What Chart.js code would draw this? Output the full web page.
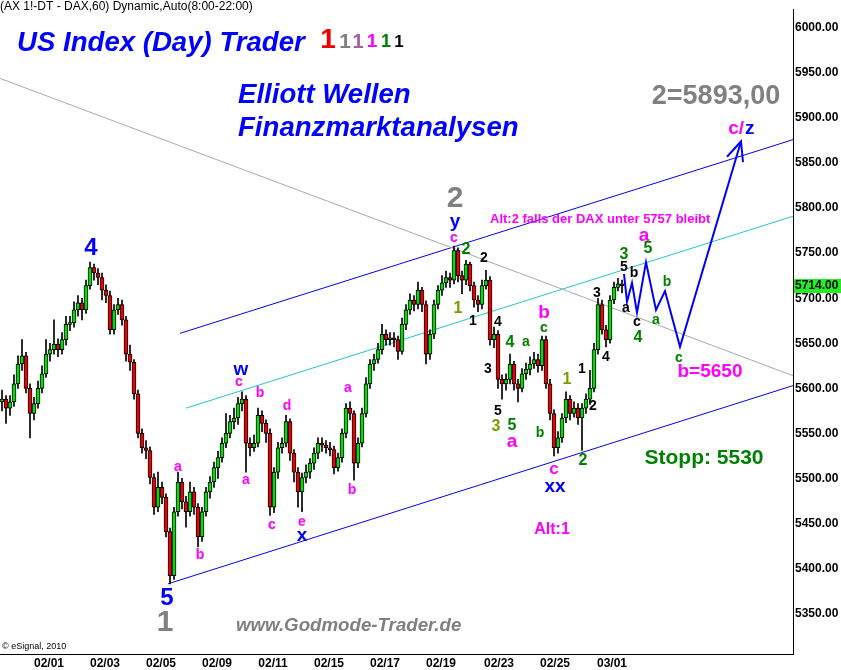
<!DOCTYPE html>
<html>
<head>
<meta charset="utf-8">
<script src="https://cdn.jsdelivr.net/npm/chart.js@4.4.1/dist/chart.umd.min.js"></script>
<style>
  html, body { margin: 0; padding: 0; background: #fff; }
  #wrap { width: 841px; height: 670px; }
</style>
</head>
<body>
<div id="wrap"><canvas id="chart" width="841" height="670"></canvas></div>
<script>
// ---- DATA (FDAX 60 min, ~2 hours per candle) ----
const closes = [
  5588, 5578, 5585, 5605, 5627, 5636, 5600, 5572, 5583, 5600,
  5616, 5638, 5643, 5649, 5643, 5654, 5671, 5673, 5687, 5695,
  5687, 5714, 5734, 5728, 5723, 5709, 5703, 5665, 5687, 5693,
  5676, 5638, 5629, 5594, 5550, 5534, 5531, 5501, 5468, 5490,
  5479, 5441, 5392, 5463, 5496, 5474, 5463, 5485, 5468, 5435,
  5463, 5485, 5496, 5512, 5523, 5539, 5550, 5563, 5567, 5583,
  5588, 5539, 5534, 5539, 5570, 5561, 5550, 5468, 5507, 5534,
  5539, 5563, 5528, 5507, 5485, 5501, 5507, 5517, 5528, 5539,
  5537, 5534, 5532, 5512, 5523, 5550, 5578, 5572, 5517, 5539,
  5572, 5605, 5627, 5632, 5643, 5660, 5654, 5656, 5654, 5641,
  5671, 5687, 5698, 5693, 5709, 5693, 5638, 5660, 5693, 5709,
  5717, 5723, 5720, 5753, 5725, 5720, 5738, 5714, 5698, 5693,
  5714, 5720, 5654, 5660, 5610, 5605, 5610, 5627, 5605, 5600,
  5616, 5621, 5627, 5632, 5625, 5654, 5605, 5572, 5534, 5545,
  5567, 5588, 5572, 5578, 5567, 5578, 5588, 5600, 5643, 5693,
  5665, 5654, 5698, 5712, 5716, 5714
];
const highs = [
  5598, 5592, 5592, 5615, 5636, 5654, 5640, 5605, 5590, 5608,
  5625, 5654, 5650, 5676, 5655, 5662, 5680, 5680, 5696, 5703,
  5700, 5720, 5740, 5738, 5733, 5728, 5715, 5708, 5693, 5700,
  5698, 5680, 5648, 5632, 5598, 5555, 5542, 5535, 5505, 5507,
  5496, 5483, 5445, 5468, 5507, 5500, 5480, 5496, 5490, 5472,
  5468, 5490, 5502, 5518, 5530, 5545, 5572, 5570, 5578, 5590,
  5596, 5592, 5545, 5548, 5578, 5575, 5565, 5555, 5512, 5540,
  5545, 5570, 5566, 5532, 5512, 5506, 5515, 5522, 5534, 5545,
  5545, 5542, 5540, 5536, 5528, 5555, 5583, 5585, 5575, 5545,
  5578, 5612, 5632, 5638, 5650, 5671, 5665, 5662, 5662, 5658,
  5678, 5693, 5705, 5703, 5718, 5712, 5697, 5665, 5698, 5714,
  5725, 5730, 5728, 5758, 5756, 5730, 5742, 5740, 5718, 5703,
  5720, 5731, 5724, 5668, 5664, 5615, 5616, 5638, 5630, 5610,
  5622, 5628, 5635, 5640, 5638, 5658, 5658, 5610, 5576, 5552,
  5572, 5596, 5592, 5585, 5583, 5583, 5594, 5620, 5650, 5700,
  5698, 5670, 5703, 5718, 5722, 5720
];
const lows = [
  5575, 5561, 5570, 5580, 5600, 5620, 5595, 5545, 5565, 5578,
  5595, 5612, 5630, 5638, 5635, 5638, 5648, 5664, 5668, 5680,
  5676, 5683, 5710, 5720, 5715, 5698, 5695, 5660, 5660, 5682,
  5670, 5630, 5620, 5588, 5545, 5528, 5522, 5494, 5460, 5463,
  5472, 5435, 5383, 5388, 5458, 5466, 5446, 5458, 5460, 5424,
  5430, 5458, 5478, 5490, 5500, 5518, 5534, 5545, 5555, 5560,
  5575, 5507, 5525, 5530, 5535, 5552, 5540, 5459, 5462, 5500,
  5528, 5535, 5520, 5496, 5468, 5463, 5495, 5500, 5510, 5522,
  5530, 5528, 5525, 5505, 5508, 5518, 5545, 5565, 5498, 5512,
  5535, 5568, 5600, 5620, 5628, 5638, 5648, 5648, 5646, 5632,
  5638, 5665, 5682, 5686, 5688, 5685, 5627, 5632, 5655, 5688,
  5703, 5712, 5712, 5716, 5718, 5705, 5715, 5708, 5690, 5685,
  5688, 5710, 5648, 5645, 5600, 5588, 5598, 5605, 5598, 5585,
  5596, 5610, 5615, 5622, 5618, 5620, 5600, 5565, 5525, 5528,
  5540, 5562, 5565, 5568, 5560, 5531, 5572, 5582, 5596, 5638,
  5660, 5646, 5650, 5694, 5708, 5706
];
const firstOpen = 5585;
const opens = closes.map((c, i) => i === 0 ? firstOpen : closes[i - 1]);

// date ticks (bar index where the day label sits)
const dateLabels   = ['02/01', '02/03', '02/05', '02/09', '02/11', '02/15', '02/17', '02/19', '02/23', '02/25', '03/01'];
const dateTickBars = [11.75, 25.75, 39.75, 53.75, 67.75, 81.75, 95.75, 109.75, 124.25, 138.25, 152.5];
const priceTicks   = [5350, 5400, 5450, 5500, 5550, 5600, 5650, 5700, 5750, 5800, 5850, 5900, 5950, 6000];

// trend channel lines [bar, price] pairs
const grayLine   = [[-0.5, 5944], [197.75, 5614]];
const upperLine  = [[44.5, 5661], [197.75, 5876]];
const middleLine = [[46, 5578], [197.75, 5791]];
const lowerLine  = [[41.5, 5383], [197.75, 5603]];

// projected path (wave b then c/z)
const projBars   = [155.5, 156.25, 157.5, 158.75, 161, 163.5, 165.75, 169.5, 184.75];
const projPrices = [5727, 5696, 5717, 5684, 5740, 5687, 5708, 5646, 5874];
const arrowTip   = [184.75, 5874];
const arrowLeft  = [181.25, 5857];
const arrowRight = [185.25, 5851];

// ---- STYLE ----
const FONT = '"Liberation Sans", Arial, sans-serif';
const MAG = '#ff00ff', BLUE = '#0000ff', GRAY = '#808080', GRN = '#008000', OLV = '#7a9a00', BLK = '#000000';
const UP = '#00e000', DOWN = '#ee0000';

// wave labels: text, bar, price, color, size
const waveLabels = [
  ['4', 22.25, 5755, BLUE, 24], ['5', 41.25, 5367, BLUE, 24], ['1', 40.75, 5340, GRAY, 30],
  ['a', 44, 5512, MAG, 14], ['b', 49.5, 5415, MAG, 14],
  ['w', 59.75, 5621, BLUE, 19], ['c', 59.25, 5607, MAG, 14], ['a', 61, 5498, MAG, 14],
  ['b', 64.5, 5595, MAG, 14], ['c', 67.5, 5448, MAG, 14], ['d', 71.25, 5580, MAG, 14],
  ['e', 75, 5452, MAG, 14], ['x', 75, 5436, BLUE, 19],
  ['a', 86.5, 5600, MAG, 14], ['b', 87.5, 5487, MAG, 14],
  ['2', 113.25, 5810, GRAY, 30], ['y', 113.25, 5785, BLUE, 19], ['c', 113, 5767, MAG, 14],
  ['2', 116, 5754, GRN, 16], ['2', 120.5, 5744, BLK, 14], ['1', 114, 5688, OLV, 16],
  ['1', 117.75, 5675, BLK, 14], ['4', 124, 5674, BLK, 14], ['4', 127, 5651, GRN, 16],
  ['a', 131, 5651, GRN, 14], ['3', 121.5, 5621, BLK, 14], ['5', 124, 5575, BLK, 14],
  ['3', 123.5, 5558, OLV, 16], ['5', 127.5, 5559, GRN, 16], ['a', 127.5, 5541, MAG, 19],
  ['b', 135.5, 5684, MAG, 19], ['c', 135.5, 5667, GRN, 14], ['b', 134.5, 5550, GRN, 14],
  ['c', 138, 5510, MAG, 17], ['xx', 138.25, 5491, BLUE, 19],
  ['1', 141.25, 5610, OLV, 16], ['1', 145, 5621, BLK, 14], ['2', 147.75, 5580, BLK, 14],
  ['2', 145.25, 5520, GRN, 16], ['3', 148.75, 5706, BLK, 14], ['4', 151, 5635, BLK, 14],
  ['3', 155.5, 5748, GRN, 16], ['5', 155.5, 5734, BLK, 14], ['a', 156, 5689, BLK, 14],
  ['b', 158, 5728, BLK, 14], ['c', 158.75, 5674, BLK, 14], ['4', 159, 5656, GRN, 16],
  ['a', 160.5, 5769, MAG, 19], ['5', 161.5, 5755, GRN, 16], ['a', 163.5, 5676, GRN, 14],
  ['b', 166.25, 5718, GRN, 14], ['c', 169.25, 5633, GRN, 14],
  ['b=5650', 177, 5618, MAG, 19], ['2=5893,00', 178.5, 5924, GRAY, 27],
  ['Stopp: 5530', 175.5, 5522, GRN, 21], ['Alt:1', 137.5, 5443, MAG, 16]
];

function txt(ctx, s, x, y, color, size, align, style) {
  ctx.font = (style || 'bold') + ' ' + size + 'px ' + FONT;
  ctx.fillStyle = color;
  ctx.textAlign = align || 'center';
  ctx.textBaseline = 'middle';
  ctx.fillText(s, x, y);
}

const annotationsPlugin = {
  id: 'ewAnnotations',
  afterDatasetsDraw(chart) {
    const { ctx, scales: { x, y } } = chart;
    ctx.save();
    waveLabels.forEach(([s, b, p, c, sz]) => txt(ctx, s, x.getPixelForValue(b), y.getPixelForValue(p), c, sz));
    // c/z target
    const cx = x.getPixelForValue(184.5), cy = y.getPixelForValue(5888);
    txt(ctx, 'c/', cx + 4, cy, MAG, 19, 'right');
    txt(ctx, 'z', cx + 5, cy, BLUE, 19, 'left');
    // alternative note
    txt(ctx, 'Alt:2 falls der DAX unter 5757 bleibt', x.getPixelForValue(122), y.getPixelForValue(5788), MAG, 13, 'left');

    // frame texts
    txt(ctx, '(AX 1!-DT - DAX,60) Dynamic,Auto(8:00-22:00)', 0, 7, BLK, 12, 'left', 'normal');
    txt(ctx, 'US Index (Day) Trader', 17, 43, BLUE, 27.6, 'left', 'italic bold');
    txt(ctx, '1', 328, 40, '#ee0000', 28);
    txt(ctx, '1', 345, 42, GRAY, 21);
    txt(ctx, '1', 358, 42, '#a060a0', 20);
    txt(ctx, '1', 372, 42, MAG, 19);
    txt(ctx, '1', 386, 42, GRN, 18);
    txt(ctx, '1', 399, 42, BLK, 17);
    txt(ctx, 'Elliott Wellen', 238, 95, BLUE, 27.6, 'left', 'italic bold');
    txt(ctx, 'Finanzmarktanalysen', 238, 128, BLUE, 27.6, 'left', 'italic bold');
    txt(ctx, 'www.Godmode-Trader.de', 236, 626, GRAY, 18.7, 'left', 'italic bold');
    txt(ctx, '\u00a9 eSignal, 2010', 2, 647, BLK, 9, 'left', 'normal');
    ctx.restore();
  },
  afterDraw(chart) {
    const { ctx, chartArea, scales: { y } } = chart;
    const last = closes[closes.length - 1];
    const py = Math.round(y.getPixelForValue(last));
    ctx.save();
    ctx.fillStyle = '#22ee22';
    ctx.fillRect(chartArea.right + 1, py - 7, 48, 14);
    txt(ctx, last.toFixed(2), chartArea.right + 2, py, BLK, 12, 'left');
    ctx.restore();
  }
};

const pts = arr => arr.map(([b, p]) => ({ x: b, y: p }));
const lineDs = (data, color, width, order) => ({
  type: 'line', data, borderColor: color, borderWidth: width,
  pointRadius: 0, fill: false, tension: 0, order
});

new Chart(document.getElementById('chart'), {
  type: 'bar',
  data: {
    datasets: [
      lineDs(pts(grayLine), '#a8a8a8', 1, 5),
      lineDs(pts(upperLine), BLUE, 1, 5),
      lineDs(pts(middleLine), '#22c4cc', 1, 5),
      lineDs(pts(lowerLine), BLUE, 1, 5),
      {
        type: 'bar',
        data: closes.map((c, i) => ({ x: i, y: [lows[i], highs[i]] })),
        backgroundColor: '#000', barThickness: 1, grouped: false, order: 3
      },
      {
        type: 'bar',
        data: closes.map((c, i) => ({ x: i, y: [opens[i], c] })),
        backgroundColor: closes.map((c, i) => c >= opens[i] ? UP : DOWN),
        borderColor: '#000', borderWidth: 1, borderSkipped: false,
        barThickness: 4, grouped: false, order: 2
      },
      lineDs(projBars.map((b, i) => ({ x: b, y: projPrices[i] })), BLUE, 2, 1),
      lineDs(pts([arrowLeft, arrowTip, arrowRight]), BLUE, 2, 1)
    ]
  },
  options: {
    responsive: false,
    animation: false,
    devicePixelRatio: 1,
    layout: { padding: 0 },
    plugins: { legend: { display: false }, tooltip: { enabled: false } },
    scales: {
      x: {
        type: 'linear', position: 'bottom', min: -0.5, max: 197.75, offset: false,
        grid: { display: false, drawTicks: false },
        border: { display: true, color: '#000', width: 1 },
        ticks: {
          color: '#000', padding: 2, maxRotation: 0, autoSkip: false,
          font: { family: FONT, size: 12, weight: 'bold' },
          callback: (v, i) => dateLabels[i]
        },
        afterBuildTicks: s => { s.ticks = dateTickBars.map(v => ({ value: v })); },
        afterFit: s => { s.height = 16; }
      },
      y: {
        type: 'linear', position: 'right', min: 5305.1, max: 6020.8,
        grid: { display: false, drawTicks: false },
        border: { display: true, color: '#000', width: 1 },
        ticks: {
          color: '#000', padding: 2,
          font: { family: FONT, size: 12, weight: 'bold' },
          callback: v => v.toFixed(2)
        },
        afterBuildTicks: s => { s.ticks = priceTicks.map(v => ({ value: v })); },
        afterFit: s => { s.width = 48; }
      }
    }
  },
  plugins: [annotationsPlugin]
});
</script>
</body>
</html>
